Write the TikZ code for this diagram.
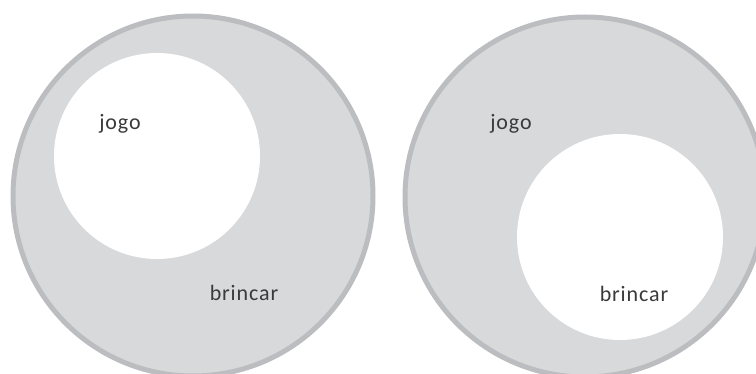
\documentclass[tikz,border=0pt]{standalone}
\usepackage{fontspec}
\setmainfont{Carlito}[LetterSpace=4]
\definecolor{setfill}{HTML}{D8D9DB}
\definecolor{setrim}{HTML}{BCBDC0}
\definecolor{labelgray}{HTML}{3A3A3A}
\tikzset{
  outerset/.style={circle, inner sep=0pt, minimum size=360pt, fill=setfill, draw=setrim, line width=5pt},
  innerset/.style={circle, inner sep=0pt, minimum size=206pt, fill=white},
  setlabel/.style={inner sep=0pt, text=labelgray, font=\fontsize{22}{26}\selectfont}
}
\begin{document}
\begin{tikzpicture}[x=1pt,y=1pt]
  \useasboundingbox (0,0) rectangle (756,-374);
  \begin{scope}
    \clip (0,0) rectangle (756,-374);
    % left: jogo inside brincar
    \node[outerset] (brincarA) at (193,-196) {};
    \node[innerset] (jogoA) at (157,-156) {};
    % right: brincar inside jogo
    \node[outerset] (jogoB) at (585,-197) {};
    \node[innerset] (brincarB) at (620,-237) {};
  \end{scope}
  \node[setlabel] (lblJogoA) at (120,-124) {jogo};
  \node[setlabel] (lblBrincarA) at (244,-293) {brincar};
  \node[setlabel] (lblJogoB) at (511,-124) {jogo};
  \node[setlabel] (lblBrincarB) at (634,-294) {brincar};
\end{tikzpicture}
\end{document}
